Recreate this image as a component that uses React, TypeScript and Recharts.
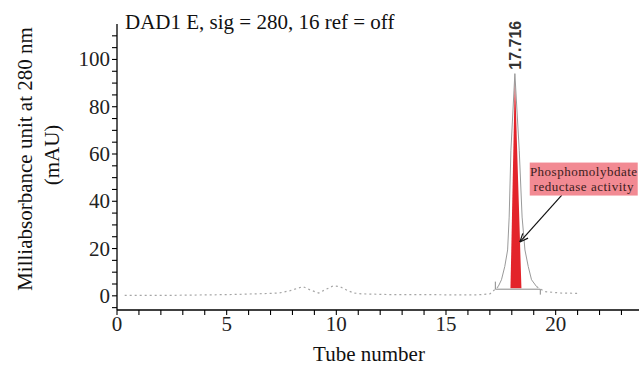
import React from 'react';
import { ComposedChart, Line, Area, XAxis, YAxis, ReferenceLine, ReferenceDot, Label } from 'recharts';

const W = 639;
const H = 371;

const xTicks = [0, 1, 2, 3, 4, 5, 6, 7, 8, 9, 10, 11, 12, 13, 14, 15, 16, 17, 18, 19, 20, 21, 22, 23];
const xTickLabels = [0, 5, 10, 15, 20];
const yTicks = [-5, 0, 5, 10, 15, 20, 25, 30, 35, 40, 45, 50, 55, 60, 65, 70, 75, 80, 85, 90, 95, 100, 105, 110];
const yTickLabels = [0, 20, 40, 60, 80, 100];

// chromatogram baseline (dotted trace)
const baseTube = [0.35, 2.4, 3.3, 5.0, 5.8, 6.6, 7.4, 7.9, 8.48, 8.8, 9.2, 9.5, 9.85, 10.16, 10.5, 10.8, 11.2, 12.5, 14, 15.5, 16.4, 17.0, 17.38];
const baseAbs = [0.2, 0.2, 0.3, 0.5, 0.7, 0.9, 1.2, 2.2, 3.9, 2.5, 1.2, 2.6, 4.2, 3.9, 2.3, 1.2, 0.8, 0.5, 0.5, 0.4, 0.4, 0.8, 3.9];
// main peak trace
const peakTube = [17.38, 17.53, 17.68, 17.81, 17.88, 17.96, 18.14, 18.34, 18.47, 18.6, 18.75, 18.9, 19.13];
const peakAbs = [3.9, 6.8, 12.4, 19.4, 33.3, 61.6, 94, 61.6, 33.3, 19.4, 12.4, 6.8, 3.9];
// tail after peak
const tailTube = [19.13, 19.5, 20.2, 21.1];
const tailAbs = [3.9, 1.8, 1.2, 1.0];
// red integrated area (phosphomolybdate reductase activity)
const redTube = [17.94, 18.14, 18.44];
const redLow = [3.2, 3.2, 3.2];
const redHigh = [3.2, 93, 3.2];

const peakLabel = '17.716';
const peakLabelPos = { x: 18.14, y: 106 };
const annoText = ['Phosphomolybdate', 'reductase activity'];
const annoPos = { x: 21.28, y: 49.4 };
const arrowFrom = { x: 20.28, y: 42.6 };
const arrowTo = { x: 18.37, y: 22.8 };
const integStart = 17.25;
const integEnd = 19.3;
const integLevel = 2.8;

const baseData = baseTube.map((x, i) => ({ x, v: baseAbs[i] }));
const peakData = peakTube.map((x, i) => ({ x, v: peakAbs[i] }));
const tailData = tailTube.map((x, i) => ({ x, v: tailAbs[i] }));
const redData = redTube.map((x, i) => ({ x, r: [redLow[i], redHigh[i]] }));

const SERIF = '"Liberation Serif", "Times New Roman", serif';

const XTick = (props: any) => {
  const { x, y, payload } = props;
  if (!xTickLabels.includes(payload.value)) return <g />;
  return (
    <text x={x} y={y} dy={14} textAnchor="middle" fontFamily={SERIF} fontSize={21} fill="#222">
      {payload.value}
    </text>
  );
};

const YTick = (props: any) => {
  const { x, y, payload } = props;
  if (!yTickLabels.includes(payload.value)) return <g />;
  return (
    <text x={x} y={y} dy={7} textAnchor="end" fontFamily={SERIF} fontSize={21} fill="#222">
      {payload.value}
    </text>
  );
};

const ArrowShape = (props: any) => {
  const { x1, y1, x2, y2 } = props;
  const ang = Math.atan2(y2 - y1, x2 - x1);
  const L = 9;
  const a1 = ang + Math.PI - 0.4;
  const a2 = ang + Math.PI + 0.4;
  return (
    <g>
      <line x1={x1} y1={y1} x2={x2} y2={y2} stroke="#111" strokeWidth={1.2} />
      <line x1={x2} y1={y2} x2={x2 + L * Math.cos(a1)} y2={y2 + L * Math.sin(a1)} stroke="#111" strokeWidth={1.2} />
      <line x1={x2} y1={y2} x2={x2 + L * Math.cos(a2)} y2={y2 + L * Math.sin(a2)} stroke="#111" strokeWidth={1.2} />
    </g>
  );
};

const AnnoShape = (props: any) => {
  const { cx, cy } = props;
  return (
    <g>
      <rect x={cx - 54} y={cy - 16.5} width={108} height={33} fill="#f28a93" />
      <text x={cx} y={cy - 3} textAnchor="middle" fontFamily={SERIF} fontSize={13} letterSpacing={0.5} fill="#3b1c1c">{annoText[0]}</text>
      <text x={cx} y={cy + 12} textAnchor="middle" fontFamily={SERIF} fontSize={13} letterSpacing={0.5} fill="#3b1c1c">{annoText[1]}</text>
    </g>
  );
};

export default function App() {
  return (
    <div style={{ position: 'absolute', left: 0, top: 0, width: W, height: H, background: '#fff' }}>
      <ComposedChart width={W} height={H} margin={{ top: 24, right: 0, bottom: 31, left: 57 }}>
        <XAxis
          type="number"
          dataKey="x"
          domain={[0, 23.8]}
          ticks={xTicks}
          interval={0}
          allowDataOverflow
          tickSize={5}
          tickLine={{ stroke: '#000', strokeWidth: 1.1 }}
          axisLine={{ stroke: '#000', strokeWidth: 1.3 }}
          tick={<XTick />}
          height={30}
        />
        <YAxis
          type="number"
          domain={[-6, 115]}
          ticks={yTicks}
          interval={0}
          allowDataOverflow
          tickSize={5}
          tickLine={{ stroke: '#000', strokeWidth: 1.1 }}
          axisLine={{ stroke: '#000', strokeWidth: 1.3 }}
          tick={<YTick />}
          width={60}
        />
        <Area
          data={redData}
          dataKey="r"
          type="linear"
          fill="#e3242b"
          fillOpacity={1}
          stroke="none"
          isAnimationActive={false}
        />
        <Line data={baseData} dataKey="v" type="linear" stroke="#a5a5a5" strokeWidth={1.2} strokeDasharray="2 3" dot={false} isAnimationActive={false} />
        <Line data={peakData} dataKey="v" type="linear" stroke="#9a9a9a" strokeWidth={1} dot={false} isAnimationActive={false} />
        <Line data={tailData} dataKey="v" type="linear" stroke="#a5a5a5" strokeWidth={1.2} strokeDasharray="2 3" dot={false} isAnimationActive={false} />
        <ReferenceLine segment={[{ x: integStart, y: integLevel }, { x: integEnd, y: integLevel }]} stroke="#888" strokeWidth={1} />
        <ReferenceLine segment={[{ x: integStart, y: integLevel }, { x: integStart, y: 6 }]} stroke="#888" strokeWidth={1} />
        <ReferenceLine segment={[{ x: integEnd, y: integLevel }, { x: integEnd, y: 0.5 }]} stroke="#888" strokeWidth={1} />
        <ReferenceLine segment={[arrowFrom, arrowTo]} shape={<ArrowShape />} />
        <ReferenceDot x={annoPos.x} y={annoPos.y} shape={<AnnoShape />} />
        <ReferenceDot x={peakLabelPos.x} y={peakLabelPos.y} r={0} fill="none" stroke="none">
          <Label
            value={peakLabel}
            position="center"
            angle={-90}
            fontFamily='"Liberation Sans", Arial, sans-serif'
            fontWeight="bold"
            fontSize={16}
            fill="#333"
          />
        </ReferenceDot>
      </ComposedChart>
      <svg width={W} height={H} style={{ position: 'absolute', left: 0, top: 0, pointerEvents: 'none' }}>
        <text x={125} y={29} fontFamily={SERIF} fontSize={21} fill="#111">DAD1 E, sig = 280, 16 ref = off</text>
        <text x={369} y={361} textAnchor="middle" fontFamily={SERIF} fontSize={21} fill="#111">Tube number</text>
        <text transform="translate(32,159) rotate(-90)" textAnchor="middle" fontFamily={SERIF} fontSize={21} fill="#111">Milliabsorbance unit at 280 nm</text>
        <text transform="translate(59,155) rotate(-90)" textAnchor="middle" fontFamily={SERIF} fontSize={21} fill="#111">(mAU)</text>
      </svg>
    </div>
  );
}
